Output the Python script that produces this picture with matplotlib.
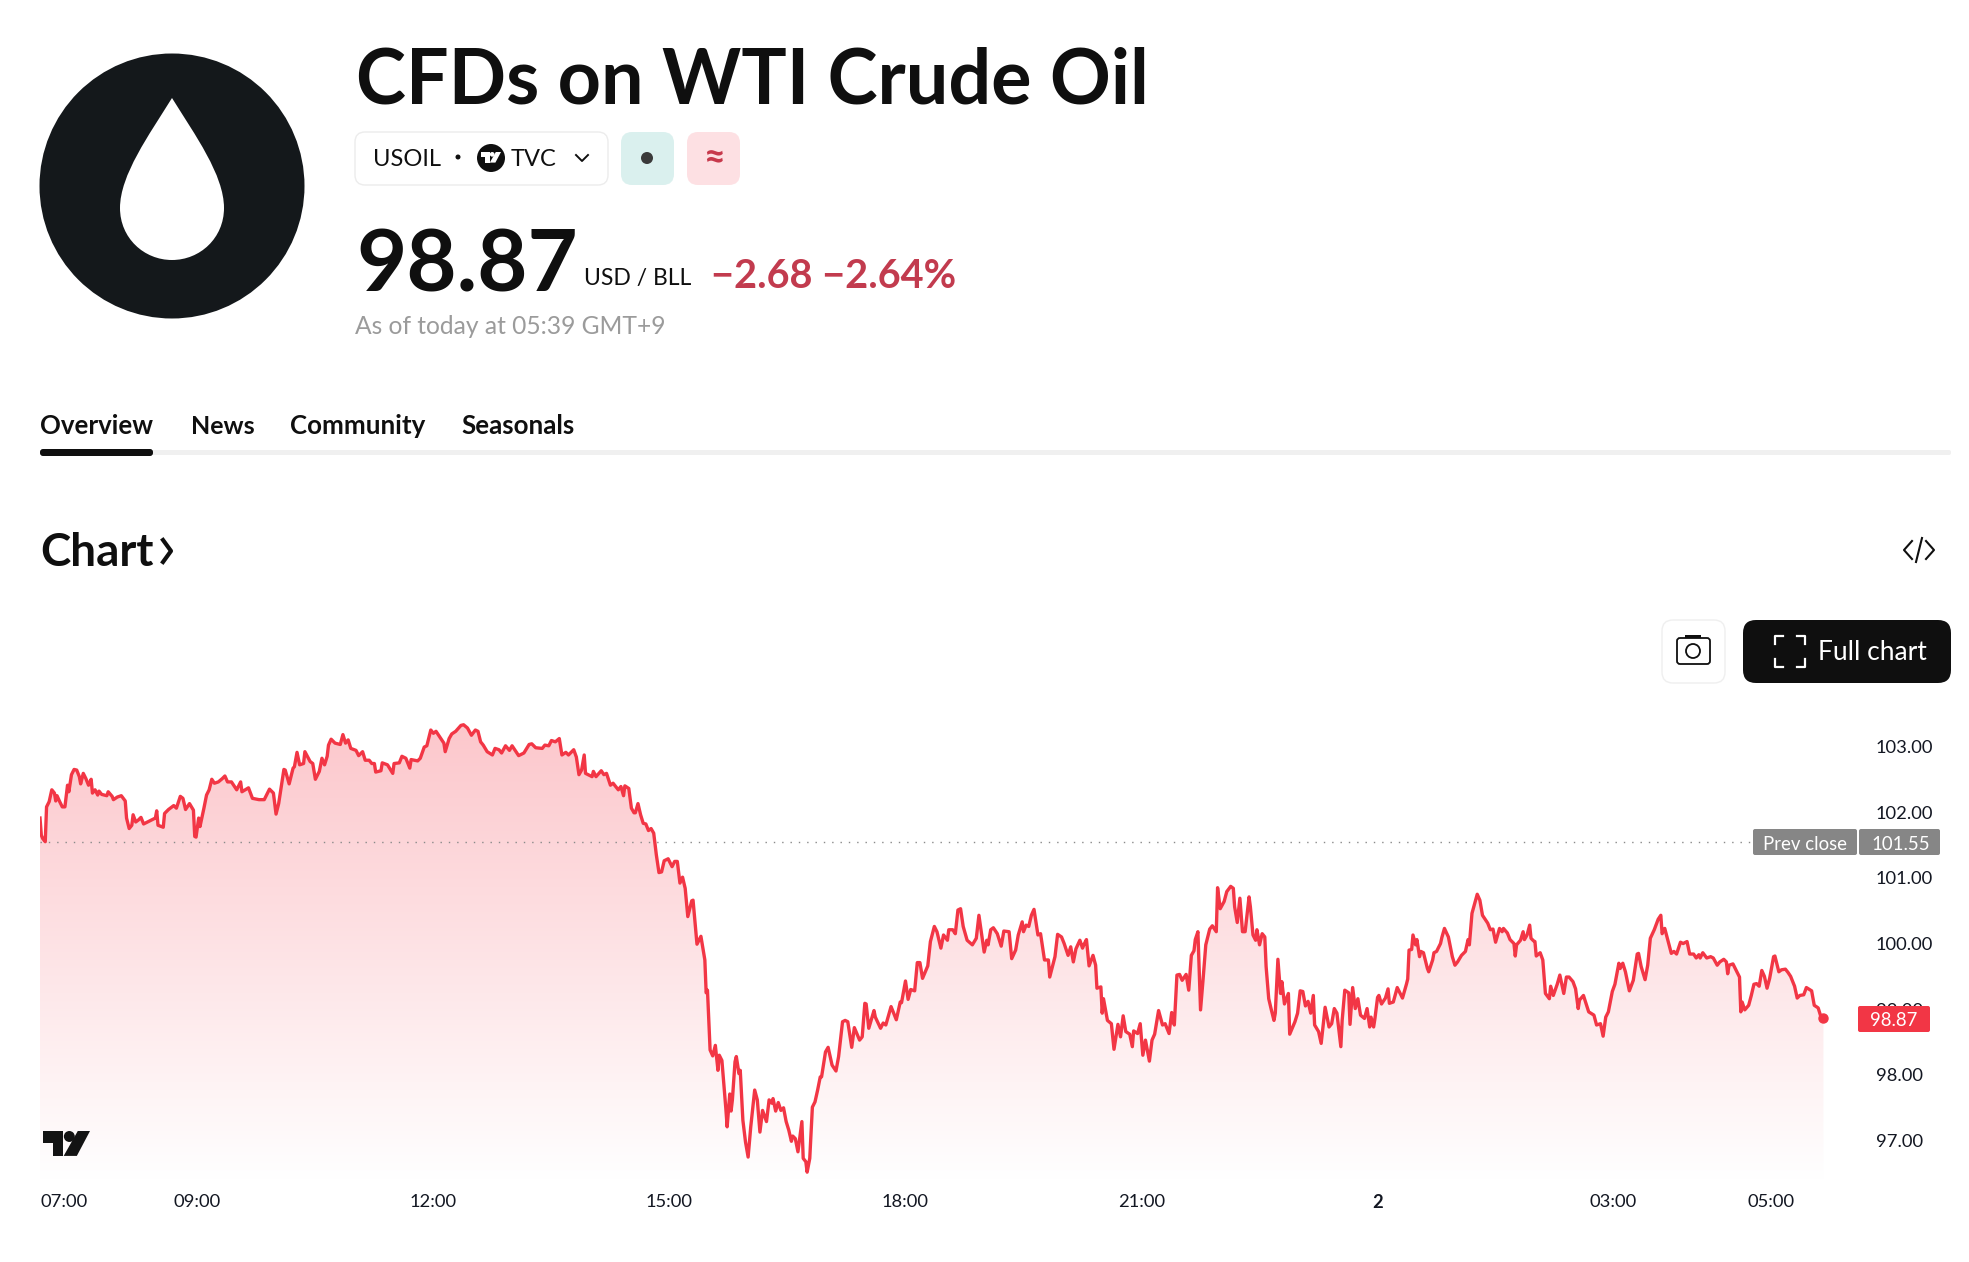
import numpy as np
from matplotlib import pyplot as plt
from matplotlib.colors import LinearSegmentedColormap
from matplotlib.patches import Circle, FancyBboxPatch, PathPatch, Polygon, Rectangle
from matplotlib.path import Path

plt.rcParams['font.family'] = ['Lato', 'DejaVu Sans']

# (minutes since 07:00, price)
morning = [(0, 101.91), (1, 101.65), (2, 101.60), (4, 101.55), (5, 102.08), (7, 102.16), (9, 102.34), (11, 102.29),
           (12, 102.17), (13, 102.25), (15, 102.16), (17, 102.08), (19, 102.08), (21, 102.41), (22, 102.31),
           (24, 102.57), (26, 102.65), (28, 102.64), (30, 102.54), (31, 102.43), (33, 102.59), (35, 102.51),
           (37, 102.41), (39, 102.50), (40, 102.29), (42, 102.34), (44, 102.26), (45, 102.32), (47, 102.27),
           (51, 102.25), (52, 102.31), (55, 102.24), (56, 102.19), (59, 102.23), (62, 102.25), (65, 102.17),
           (66, 101.91), (68, 101.75), (70, 101.80), (71, 101.96), (73, 101.85), (75, 101.88), (77, 101.92),
           (79, 101.82), (82, 101.85), (86, 101.89), (88, 101.91), (89, 102.02), (90, 101.80), (94, 101.77),
           (95, 101.98), (98, 102.04), (102, 102.10), (104, 102.06), (107, 102.24), (109, 102.21), (111, 102.04),
           (114, 102.13), (117, 102.03), (118, 101.63), (119, 101.62), (121, 101.91), (122, 101.78), (125, 102.06),
           (127, 102.26), (129, 102.34), (131, 102.50), (133, 102.44), (136, 102.46), (139, 102.51), (141, 102.55),
           (143, 102.46), (146, 102.46), (150, 102.34), (153, 102.46), (154, 102.31), (159, 102.37), (162, 102.21),
           (167, 102.19), (171, 102.19), (175, 102.35), (178, 102.29), (180, 101.97), (182, 102.13), (186, 102.65),
           (187, 102.64), (190, 102.43), (193, 102.67), (194, 102.69), (196, 102.91), (198, 102.72), (201, 102.74),
           (202, 102.92), (206, 102.77), (208, 102.74), (210, 102.50), (213, 102.62), (215, 102.82), (217, 102.72),
           (219, 102.85), (220, 103.02), (222, 103.11), (225, 103.05)]
midday = [(229, 103.03), (231, 103.18), (233, 103.05), (235, 103.10), (237, 102.97), (241, 102.94), (243, 102.86),
          (246, 102.92), (248, 102.79), (251, 102.79), (253, 102.74), (255, 102.74), (256, 102.61), (260, 102.63),
          (261, 102.75), (265, 102.72), (269, 102.59), (270, 102.74), (274, 102.75), (276, 102.85), (279, 102.82),
          (282, 102.67), (283, 102.80), (288, 102.78), (290, 102.82), (293, 102.99), (295, 103.01), (298, 103.25),
          (300, 103.20), (302, 103.23), (305, 103.14), (308, 103.05), (309, 102.92), (312, 103.12), (314, 103.19),
          (317, 103.23), (321, 103.32), (323, 103.33), (326, 103.28), (329, 103.17), (332, 103.25), (334, 103.23),
          (336, 103.07), (338, 103.02), (341, 102.92), (345, 102.87), (347, 102.97), (350, 102.95), (352, 102.90),
          (355, 103.01), (358, 102.94), (360, 103.01), (365, 102.86), (369, 102.90), (373, 103.03), (375, 103.04),
          (378, 102.98), (383, 102.97), (385, 103.02), (388, 103.01), (390, 103.09), (393, 103.07), (396, 103.12),
          (398, 102.87), (401, 102.91), (403, 102.87), (407, 102.95), (409, 102.84), (411, 102.57), (413, 102.64),
          (415, 102.87), (416, 102.59), (421, 102.54), (422, 102.62), (424, 102.54), (428, 102.63), (430, 102.57),
          (432, 102.59), (435, 102.41), (437, 102.44), (441, 102.34), (443, 102.39), (445, 102.25), (446, 102.40),
          (449, 102.36), (451, 102.06), (453, 101.99)]
selloff = [(454, 101.99), (456, 102.13), (458, 101.96), (460, 101.83), (462, 101.82), (464, 101.72), (466, 101.75),
           (468, 101.68), (470, 101.35), (472, 101.08), (474, 101.09), (476, 101.26), (479, 101.29), (482, 101.17),
           (484, 101.25), (486, 101.25), (488, 100.92), (490, 101.01), (492, 100.84), (494, 100.41), (497, 100.65),
           (498, 100.66), (501, 99.99), (504, 100.11), (507, 99.75), (508, 99.25), (509, 99.29), (511, 98.38),
           (513, 98.29), (515, 98.45), (517, 98.07), (518, 98.30), (520, 98.22), (523, 97.49), (524, 97.21),
           (526, 97.71), (527, 97.45), (528, 97.62), (530, 98.20), (531, 98.28), (533, 98.02), (534, 98.07),
           (536, 97.31), (538, 96.98), (540, 96.75), (542, 97.21), (545, 97.77), (547, 97.62), (549, 97.13),
           (551, 97.46), (554, 97.29), (556, 97.62), (558, 97.57), (559, 97.64), (561, 97.45), (563, 97.58),
           (565, 97.46), (567, 97.50), (569, 97.29), (571, 97.16), (573, 96.99), (574, 97.07), (576, 97.03),
           (578, 96.83), (581, 97.29), (582, 96.73), (584, 96.68), (585, 96.52), (587, 96.73), (589, 97.51),
           (591, 97.59), (593, 97.77), (595, 97.97), (596, 97.97), (599, 98.35), (601, 98.42), (604, 98.15),
           (607, 98.06), (609, 98.28), (612, 98.81), (614, 98.83), (616, 98.81), (619, 98.42), (621, 98.72),
           (625, 98.53), (627, 98.58), (629, 99.09), (630, 99.08), (632, 98.71), (636, 98.98), (637, 98.88),
           (641, 98.71), (643, 98.79), (645, 98.76), (649, 99.04), (653, 98.84), (656, 99.11), (657, 99.10),
           (660, 99.43), (662, 99.15), (664, 99.30), (667, 99.28), (669, 99.71), (671, 99.71), (673, 99.47),
           (677, 99.66), (679, 100.03), (682, 100.26)]
evening = [(684, 100.18), (687, 99.93), (689, 100.13), (692, 100.05), (693, 100.21), (696, 100.21), (698, 100.15),
           (700, 100.51), (702, 100.53), (704, 100.26), (707, 100.05), (711, 99.98), (714, 100.08), (716, 100.43),
           (718, 100.15), (720, 99.87), (722, 100.05), (723, 99.98), (725, 100.21), (727, 100.24), (730, 100.15),
           (733, 99.96), (735, 100.19), (739, 100.18), (741, 99.77), (744, 99.90), (746, 100.13), (749, 100.33),
           (750, 100.18), (752, 100.28), (754, 100.26), (756, 100.43), (758, 100.52), (761, 100.13), (763, 100.15),
           (766, 99.75), (769, 99.75), (770, 99.49), (774, 99.80), (776, 100.14), (779, 100.10), (781, 100.00),
           (784, 99.82), (786, 99.95), (788, 99.72), (790, 99.92), (793, 100.05), (795, 99.93), (796, 99.98),
           (798, 100.06), (800, 99.66), (803, 99.82), (805, 99.67), (806, 99.32), (809, 99.34), (810, 98.94),
           (811, 99.16), (814, 98.83), (817, 98.78), (819, 98.39), (822, 98.77), (824, 98.58), (826, 98.90),
           (828, 98.66), (831, 98.62), (833, 98.43), (834, 98.67), (837, 98.63), (839, 98.78), (841, 98.30),
           (843, 98.53), (846, 98.21), (848, 98.53), (850, 98.62), (853, 98.98), (856, 98.76), (858, 98.78),
           (861, 98.63), (863, 98.95), (865, 98.76), (867, 99.52), (869, 99.53), (871, 99.44), (874, 99.53),
           (876, 99.29), (878, 99.82), (880, 99.89), (881, 100.06), (883, 100.18), (885, 98.99), (887, 99.47),
           (889, 99.98), (892, 100.22), (894, 100.27), (897, 100.18), (898, 100.85), (900, 100.53), (903, 100.64),
           (905, 100.79), (908, 100.87), (910, 100.84), (911, 100.56)]
night = [(913, 100.32), (915, 100.69), (917, 100.18), (919, 100.18), (922, 100.71), (923, 100.56), (925, 100.13),
         (927, 100.05), (928, 100.21), (930, 99.98), (932, 100.15), (934, 100.10), (935, 99.65), (937, 99.16),
         (939, 98.99), (941, 98.83), (942, 98.94), (944, 99.76), (946, 99.24), (947, 99.42), (949, 99.08),
         (952, 99.24), (953, 98.62), (957, 98.81), (959, 98.94), (961, 99.28), (963, 99.27), (965, 99.05),
         (967, 99.12), (969, 98.94), (971, 99.21), (972, 98.76), (975, 98.66), (977, 98.48), (980, 99.03),
         (983, 98.73), (985, 98.78), (987, 99.01), (989, 98.94), (992, 98.43), (993, 98.83), (995, 99.29),
         (998, 99.25), (999, 98.77), (1001, 99.33), (1003, 99.01), (1005, 99.16), (1007, 98.91), (1010, 98.86),
         (1012, 99.01), (1014, 98.73), (1015, 98.88), (1017, 98.73), (1018, 98.86), (1020, 99.18), (1021, 99.21),
         (1023, 99.08), (1026, 99.17), (1028, 99.31), (1029, 99.09), (1032, 99.11), (1035, 99.33), (1039, 99.17),
         (1042, 99.38), (1043, 99.46), (1044, 99.90), (1046, 99.91), (1047, 100.13), (1049, 99.98), (1050, 100.06),
         (1052, 99.80), (1053, 99.88), (1055, 99.86), (1058, 99.62), (1059, 99.57), (1062, 99.75), (1063, 99.86),
         (1065, 99.88), (1068, 100.00), (1069, 100.09), (1071, 100.23), (1074, 100.10), (1077, 99.80), (1079, 99.67),
         (1081, 99.72), (1084, 99.82), (1087, 99.88), (1089, 100.06), (1090, 99.98), (1092, 100.46), (1096, 100.75),
         (1098, 100.66), (1100, 100.43), (1102, 100.37), (1104, 100.31), (1106, 100.21), (1108, 100.22),
         (1110, 100.02), (1113, 100.23), (1115, 100.18), (1116, 100.23), (1119, 100.16), (1121, 100.06),
         (1124, 100.00), (1125, 99.81), (1126, 99.98), (1129, 100.05), (1131, 100.18), (1132, 100.06), (1134, 100.13),
         (1136, 100.28), (1137, 100.08), (1139, 100.04)]
late = [(1140, 100.03), (1141, 99.81), (1144, 99.86), (1146, 99.75), (1148, 99.24), (1151, 99.16), (1152, 99.35),
        (1154, 99.21), (1157, 99.38), (1159, 99.52), (1162, 99.24), (1164, 99.49), (1166, 99.49), (1169, 99.42),
        (1171, 99.31), (1173, 99.01), (1174, 99.14), (1177, 99.21), (1181, 98.96), (1185, 98.91), (1187, 98.76),
        (1190, 98.78), (1192, 98.59), (1194, 98.88), (1196, 98.96), (1199, 99.27), (1201, 99.38), (1204, 99.70),
        (1205, 99.62), (1207, 99.70), (1209, 99.57), (1212, 99.28), (1215, 99.44), (1218, 99.84), (1219, 99.85),
        (1221, 99.65), (1224, 99.45), (1226, 99.67), (1228, 100.08), (1231, 100.21), (1234, 100.37), (1236, 100.43),
        (1237, 100.15), (1239, 100.23), (1241, 100.08), (1244, 99.85), (1246, 99.88), (1248, 99.84), (1251, 100.02),
        (1253, 100.00), (1256, 100.03), (1258, 99.84), (1261, 99.84), (1263, 99.78), (1265, 99.83), (1266, 99.78),
        (1268, 99.86), (1271, 99.78), (1274, 99.80), (1276, 99.78), (1279, 99.67), (1281, 99.72), (1284, 99.76),
        (1286, 99.72), (1287, 99.54), (1288, 99.67), (1291, 99.69), (1294, 99.57), (1296, 99.49), (1297, 98.96),
        (1298, 99.11), (1300, 98.99), (1303, 99.06), (1305, 99.21), (1307, 99.38), (1309, 99.39), (1311, 99.35),
        (1313, 99.59), (1315, 99.50), (1317, 99.32), (1319, 99.47), (1322, 99.80), (1323, 99.81), (1326, 99.57),
        (1328, 99.60), (1331, 99.61), (1333, 99.56), (1335, 99.50), (1338, 99.35), (1340, 99.17), (1342, 99.21),
        (1345, 99.22), (1347, 99.33), (1351, 99.28), (1353, 99.06), (1356, 99.02), (1358, 98.89), (1360, 98.87)]

prev_close = 101.55
last_price = 98.87
price_ticks = [97, 98, 99, 100, 101, 102, 103]
time_ticks = [0, 120, 300, 480, 660, 840, 1020, 1200, 1320]
time_labels = ['07:00', '09:00', '12:00', '15:00', '18:00', '21:00', '2', '03:00', '05:00']

RED = '#f23645'
INK = '#0f0f0f'
W, H = 1969, 1262

minutes, prices = np.array(morning + midday + selloff + evening + night + late).T

fig = plt.figure(figsize=(W / 100, H / 100), dpi=100, facecolor='white')

# price chart, axes box given in picture pixels
left, right, top, bottom = 40, 1870, 700, 1180
ax = fig.add_axes([left / W, 1 - bottom / H, (right - left) / W, (bottom - top) / H])
ax.patch.set_alpha(0)
ax.set_xlim(0, (right - 39.5) / 1.3117)
ax.set_ylim(prev_close - (bottom - 841.7) / 65.7, prev_close + (841.7 - top) / 65.7)
for s in ax.spines.values():
    s.set_visible(False)

area = ax.fill_between(minutes, prices, ax.get_ylim()[0], color='none', lw=0)
cmap = LinearSegmentedColormap.from_list('fade', ['#fcc4c9', '#ffffff'])
grad = ax.imshow(np.linspace(0, 1, 256)[:, None], cmap=cmap, aspect='auto', zorder=1,
                 extent=[minutes[0], minutes[-1], ax.get_ylim()[0], ax.get_ylim()[1]], origin='upper')
grad.set_clip_path(area.get_paths()[0], ax.transData)
ax.set_xlim(0, (right - 39.5) / 1.3117)

ax.plot([0, 1306], [prev_close, prev_close], color='#8a8a8a', lw=1, ls=(0, (1, 5)), zorder=2)
ax.plot(minutes, prices, color=RED, lw=2.4, zorder=3, solid_joinstyle='round')
ax.plot(minutes[-1], prices[-1], 'o', color=RED, ms=6.5, zorder=4)

ax.yaxis.tick_right()
ax.set_yticks(price_ticks)
ax.set_yticklabels(['%.2f' % p for p in price_ticks])
ax.set_xticks(time_ticks)
ax.set_xticklabels(time_labels)
ax.tick_params(axis='both', length=0, labelsize=13.2, labelcolor='#131722')
ax.tick_params(axis='x', pad=10)
ax.tick_params(axis='y', pad=4)
ax.get_xticklabels()[0].set_ha('left')
ax.get_xticklabels()[6].set_fontweight('bold')

# everything around the chart, in picture pixels
ui = fig.add_axes([0, 0, 1, 1], zorder=5)
ui.patch.set_alpha(0)
ui.set_xlim(0, W)
ui.set_ylim(H, 0)
ui.axis('off')


def box(x0, y0, x1, y1, fc, ec='none', r=10, lw=1, **kw):
    p = FancyBboxPatch((x0 + r, y0 + r), x1 - x0 - 2 * r, y1 - y0 - 2 * r, boxstyle='round,pad=%g,rounding_size=%g' % (r, r),
                       fc=fc, ec=ec, lw=lw, **kw)
    ui.add_patch(p)


def label(x, y, s, size, color=INK, weight='normal', ha='left', va='center'):
    ui.text(x, y, s, fontsize=size, color=color, fontweight=weight, ha=ha, va=va)


def tv_mark(x, y, w, color):
    # the little "17" style logo, x,y is top left corner
    h = w * 0.53
    ui.add_patch(Polygon([(x, y), (x + w * 0.43, y), (x + w * 0.43, y + h), (x + w * 0.21, y + h),
                          (x + w * 0.21, y + h * 0.47), (x, y + h * 0.47)], fc=color, ec='none'))
    ui.add_patch(Circle((x + w * 0.56, y + h * 0.22), h * 0.22, fc=color, ec='none'))
    ui.add_patch(Polygon([(x + w * 0.74, y), (x + w, y), (x + w * 0.72, y + h), (x + w * 0.44, y + h)], fc=color, ec='none'))


# logo
ui.add_patch(Circle((172, 186), 132.5, fc='#14181b', ec='none'))
drop = Path([(172, 98), (195, 135), (224, 175), (224, 208), (224, 238), (200, 260), (172, 260), (144, 260), (120, 238),
             (120, 208), (120, 175), (149, 135), (172, 98), (172, 98)],
            [Path.MOVETO] + [Path.CURVE4] * 12 + [Path.CLOSEPOLY])
ui.add_patch(PathPatch(drop, fc='white', ec='none'))

# header
label(356, 81, 'CFDs on WTI Crude Oil', 54.4, weight='bold')
box(355, 132, 608, 185, 'white', '#ececec')
label(373, 160, 'USOIL', 17)
ui.add_patch(Circle((458, 157), 2.5, fc=INK, ec='none'))
ui.add_patch(Circle((491, 158), 14, fc=INK, ec='none'))
tv_mark(481, 152, 20, 'white')
label(511, 160, 'TVC', 17)
ui.plot([576, 582, 588], [155, 161, 155], color=INK, lw=1.4)
box(621, 132, 674, 185, '#daf0ee', r=11)
ui.add_patch(Circle((647, 158), 6, fc='#3a3a3a', ec='none'))
box(687, 132, 740, 185, '#fde0e3', r=11)
label(713.5, 158, '≈', 27, color='#c7394c', weight='bold', ha='center')

label(356, 267, '98.87', 62.4, weight='bold')
label(584, 279, 'USD / BLL', 16.5)
label(711, 277, '−2.68 −2.64%', 28.6, color='#c23b4e', weight='bold')
label(355, 326, 'As of today at 05:39 GMT+9', 17.7, color='#9b9b9b')

# tabs
label(40, 426, 'Overview', 18.6, weight='bold')
label(191, 426, 'News', 18, weight='bold')
label(290, 426, 'Community', 18.6, weight='bold')
label(461, 426, 'Seasonals', 18.6, weight='bold')
box(40, 450, 1951, 455, '#f0f0f0', r=2)
box(40, 449, 153, 456, INK, r=3)

# section head
label(40, 553, 'Chart', 33, weight='bold')
ui.plot([163, 171, 163], [540, 551, 562], color=INK, lw=3)
ui.plot([1912, 1904, 1912], [541, 550, 559], color=INK, lw=1.5)
ui.plot([1922, 1916], [538, 562], color=INK, lw=1.5)
ui.plot([1926, 1934, 1926], [541, 550, 559], color=INK, lw=1.5)

# buttons
box(1662, 620, 1725, 683, 'white', '#efefef', r=11)
box(1677, 638, 1710, 664, 'white', INK, r=3, lw=1.3)
ui.add_patch(Rectangle((1685, 635), 16, 3, fc=INK, ec='none'))
ui.add_patch(Circle((1693, 651), 7, fc='white', ec=INK, lw=1.3))
box(1743, 620, 1951, 683, INK, r=13)
for cx, cy, dx, dy in [(1775, 636, 1, 1), (1805, 636, -1, 1), (1775, 667, 1, -1), (1805, 667, -1, -1)]:
    ui.plot([cx, cx, cx + 8 * dx], [cy + 8 * dy, cy, cy], color='white', lw=1.6)
label(1818, 653, 'Full chart', 19, color='white')

# price labels
box(1753, 829, 1857, 855, '#868686', r=2)
box(1859, 829, 1940, 855, '#868686', r=2)
label(1805, 844, 'Prev close', 13.4, color='white', ha='center')
label(1901, 844, '%.2f' % prev_close, 13.4, color='white', ha='center')
box(1858, 1006, 1930, 1032, RED, r=2)
label(1894, 1020, '%.2f' % last_price, 13.4, color='white', ha='center')

tv_mark(43, 1131, 47, '#131313')

fig.savefig('out.png', dpi=100)
